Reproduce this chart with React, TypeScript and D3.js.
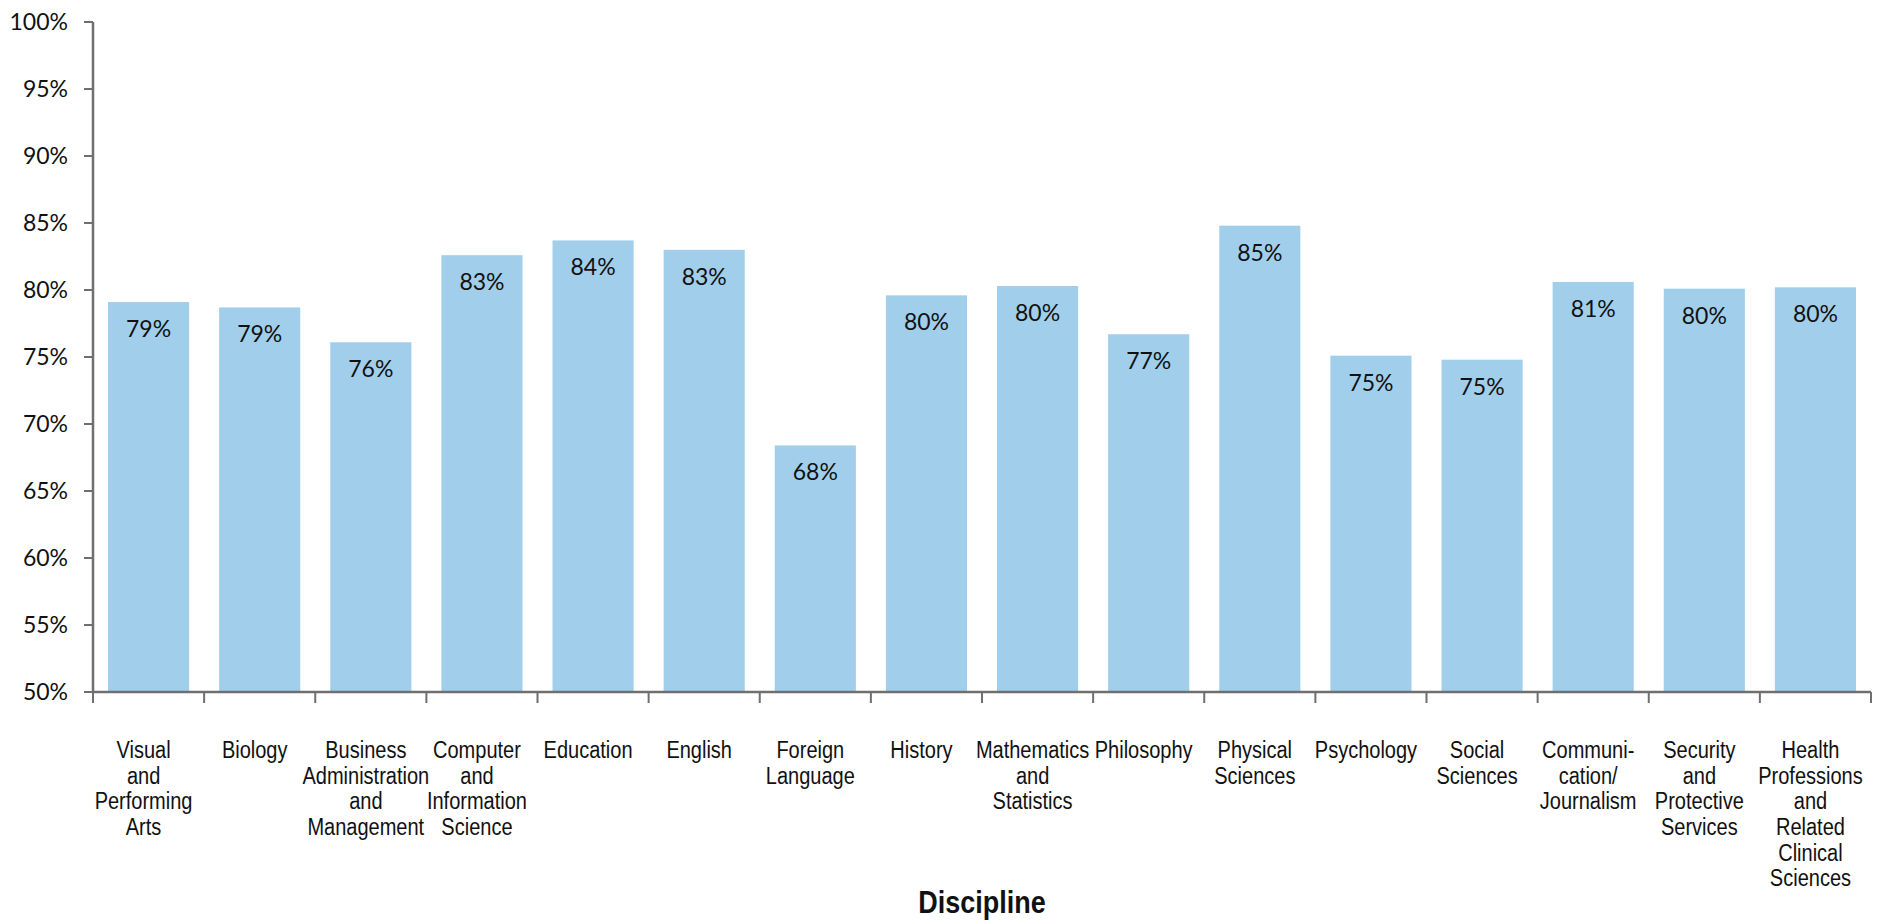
import React from "react";
import * as d3 from "d3";

const categories: string[][] = [
  ["Visual", "and", "Performing", "Arts"],
  ["Biology"],
  ["Business", "Administration", "and", "Management"],
  ["Computer", "and", "Information", "Science"],
  ["Education"],
  ["English"],
  ["Foreign", "Language"],
  ["History"],
  ["Mathematics", "and", "Statistics"],
  ["Philosophy"],
  ["Physical", "Sciences"],
  ["Psychology"],
  ["Social", "Sciences"],
  ["Communi-", "cation/", "Journalism"],
  ["Security", "and", "Protective", "Services"],
  ["Health", "Professions", "and", "Related", "Clinical", "Sciences"],
];
const values: number[] = [79.1, 78.7, 76.1, 82.6, 83.7, 83.0, 68.4, 79.6, 80.3, 76.7, 84.8, 75.1, 74.8, 80.6, 80.1, 80.2];
const yTicks: number[] = [50, 55, 60, 65, 70, 75, 80, 85, 90, 95, 100];
const xTitle = "Discipline";

const W = 1885;
const H = 924;
const left = 93;
const right = 1871;
const top = 22;
const bottom = 692;

const tickFont = "Lato, 'Noto Sans', sans-serif";
const narrowFont = "'Liberation Sans', Arial, sans-serif";
const squeeze = 0.87;

export default function App() {
  const keys = categories.map((_, i) => String(i));
  const x = d3.scaleBand<string>().domain(keys).range([left, right]).paddingInner(0.27).paddingOuter(0.135);
  const xb = d3.scaleBand<string>().domain(keys).range([left, right]);
  const y = d3.scaleLinear().domain([50, 100]).range([bottom, top]);
  const axisColor = "#6f6f6f";
  return (
    <svg width={W} height={H} style={{ position: "absolute", left: 0, top: 0, background: "#fff" }}>
      {values.map((v, i) => (
        <rect key={i} x={x(String(i))} y={y(v)} width={x.bandwidth()} height={y(50) - y(v)} fill="#a1cfeb" />
      ))}
      {values.map((v, i) => (
        <text key={"l" + i} x={x(String(i))! + x.bandwidth() / 2} y={y(v) + 35} textAnchor="middle"
          fontFamily={tickFont} fontSize={23} fill="#111">{Math.round(v) + "%"}</text>
      ))}
      {/* y axis */}
      <line x1={left} x2={left} y1={top} y2={bottom} stroke={axisColor} strokeWidth={2.5} />
      {yTicks.map((t) => (
        <g key={t}>
          <line x1={left - 9} x2={left} y1={y(t)} y2={y(t)} stroke={axisColor} strokeWidth={2} />
          <text x={left - 25} y={y(t) + 8} textAnchor="end" fontFamily={tickFont} fontSize={23} fill="#111">{t + "%"}</text>
        </g>
      ))}
      {/* x axis */}
      <line x1={left} x2={right} y1={bottom} y2={bottom} stroke={axisColor} strokeWidth={2.5} />
      {keys.concat(["end"]).map((k, i) => {
        const xx = i < keys.length ? xb(k)! : right;
        return <line key={"t" + i} x1={xx} x2={xx} y1={bottom} y2={bottom + 11} stroke={axisColor} strokeWidth={2} />;
      })}
      {categories.map((lines, i) => (
        <g key={"c" + i} transform={`translate(${xb(String(i))! + xb.bandwidth() / 2 - 5},0) scale(${squeeze},1)`}>
          <text textAnchor="middle" fontFamily={narrowFont} fontSize={23} fill="#111">
            {lines.map((ln, j) => (
              <tspan key={j} x={0} y={758 + j * 25.7}>{ln}</tspan>
            ))}
          </text>
        </g>
      ))}
      <g transform={`translate(${(left + right) / 2},0) scale(${squeeze},1)`}>
        <text x={0} y={913} textAnchor="middle" fontFamily={narrowFont} fontWeight="bold" fontSize={31} fill="#111">{xTitle}</text>
      </g>
    </svg>
  );
}
